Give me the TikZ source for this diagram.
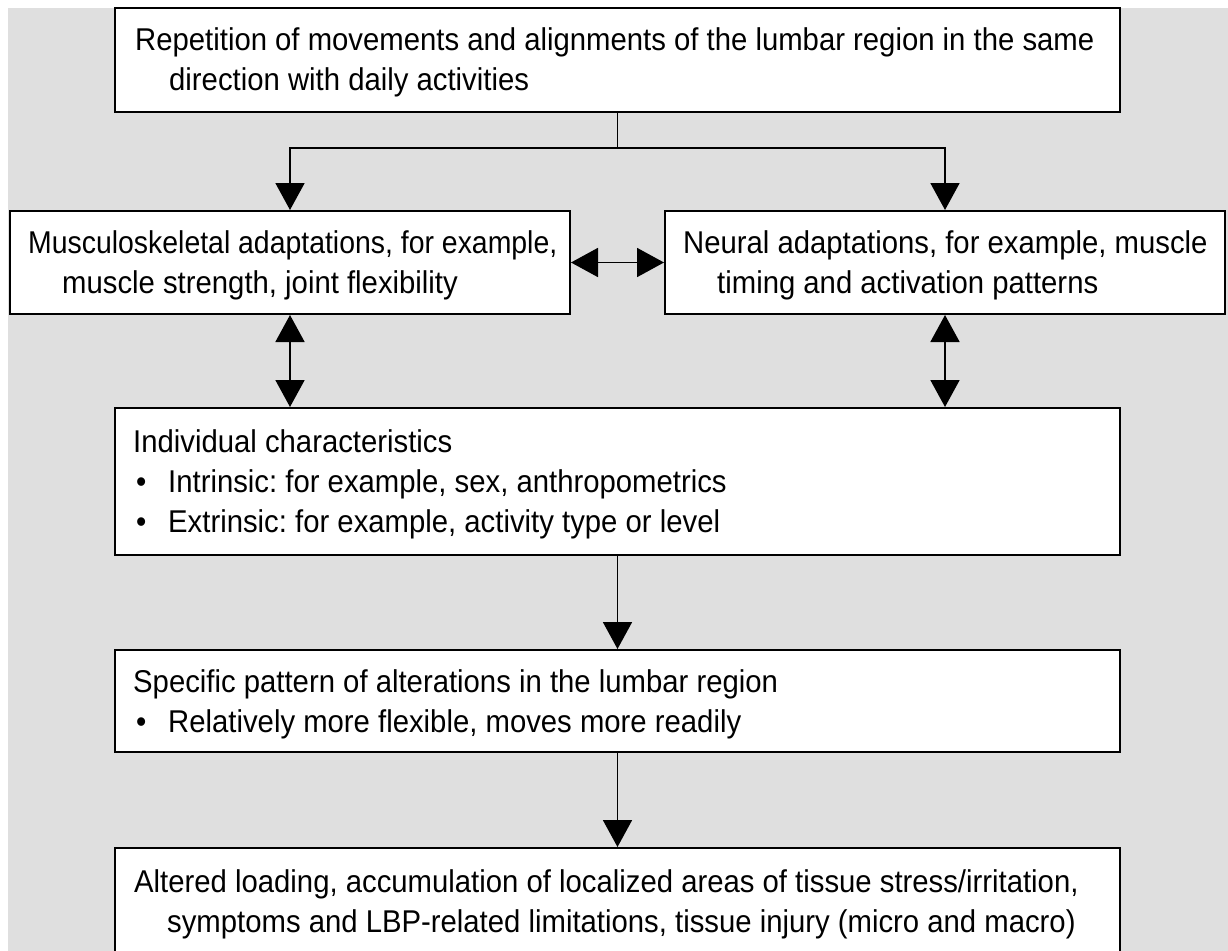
\documentclass[tikz,border=0pt]{standalone}
\usepackage{fontspec}
\setmainfont{Liberation Sans}[FakeStretch=0.93]
\usetikzlibrary{arrows.meta}
\definecolor{bggray}{RGB}{223,223,223}
\frenchspacing
\tikzset{
  box/.style={draw=black, line width=2pt, fill=white, inner sep=0pt, anchor=center},
  txt/.style={anchor=base west, inner sep=0pt, font=\fontsize{31.5}{38}\selectfont},
  arr/.style={line width=1.8pt, -{Triangle[length=27pt,width=29pt]}},
  darr/.style={line width=1.8pt, {Triangle[length=27pt,width=29pt]}-{Triangle[length=27pt,width=29pt]}}
}
\begin{document}
\begin{tikzpicture}[x=1pt,y=-1pt]
\useasboundingbox (0,0) rectangle (1228,950);
\clip (0,0) rectangle (1228,950);
\fill[bggray] (8,8) rectangle (1230,952);

% boxes
\node[box, minimum width=1005pt, minimum height=104pt] (top) at (617.5,60) {};
\node[box, minimum width=560pt, minimum height=103pt] (ms) at (290,262.5) {};
\node[box, minimum width=560pt, minimum height=103pt] (na) at (945,262.5) {};
\node[box, minimum width=1005pt, minimum height=147pt] (ind) at (617.5,481.5) {};
\node[box, minimum width=1005pt, minimum height=102pt] (spec) at (617.5,701) {};
\node[box, minimum width=1005pt, minimum height=120pt] (alt) at (617.5,908) {};

% texts
\node[txt] (t1a) at (135,51) {Repetition of movements and alignments of the lumbar region in the same};
\node[txt] (t1b) at (169,90) {direction with daily activities};

\node[txt] (t2a) at (28,253) {\scalebox{0.97}[1]{Musculoskeletal adaptations, for example,}};
\node[txt] (t2b) at (62,293) {muscle strength, joint flexibility};

\node[txt] (t3a) at (683,253) {Neural adaptations, for example, muscle};
\node[txt] (t3b) at (717,293) {timing and activation patterns};

\node[txt] (t4a) at (133,452) {Individual characteristics};
\node[txt] (b4b) at (136,492) {•};
\node[txt] (t4b) at (168,492) {Intrinsic: for example, sex, anthropometrics};
\node[txt] (b4c) at (136,532) {•};
\node[txt] (t4c) at (168,532) {Extrinsic: for example, activity type or level};

\node[txt] (t5a) at (133,692) {Specific pattern of alterations in the lumbar region};
\node[txt] (b5b) at (136,732) {•};
\node[txt] (t5b) at (168,732) {Relatively more flexible, moves more readily};

\node[txt] (t6a) at (134,892) {Altered loading, accumulation of localized areas of tissue stress/irritation,};
\node[txt] (t6b) at (167,932) {symptoms and LBP-related limitations, tissue injury (micro and macro)};

% connectors
\path (top.south) ++(0,35) coordinate (split);
\draw[line width=1.8pt] (top.south) -- (split);
\draw[arr] (split) -| (ms.north);
\draw[arr] (split) -| (na.north);
\draw[darr] (ms.east) -- (na.west);
\draw[darr] (ms.south) -- (ms.south |- ind.north);
\draw[darr] (na.south) -- (na.south |- ind.north);
\draw[arr] (ind.south) -- (spec.north);
\draw[arr] (spec.south) -- (alt.north);
\end{tikzpicture}
\end{document}
